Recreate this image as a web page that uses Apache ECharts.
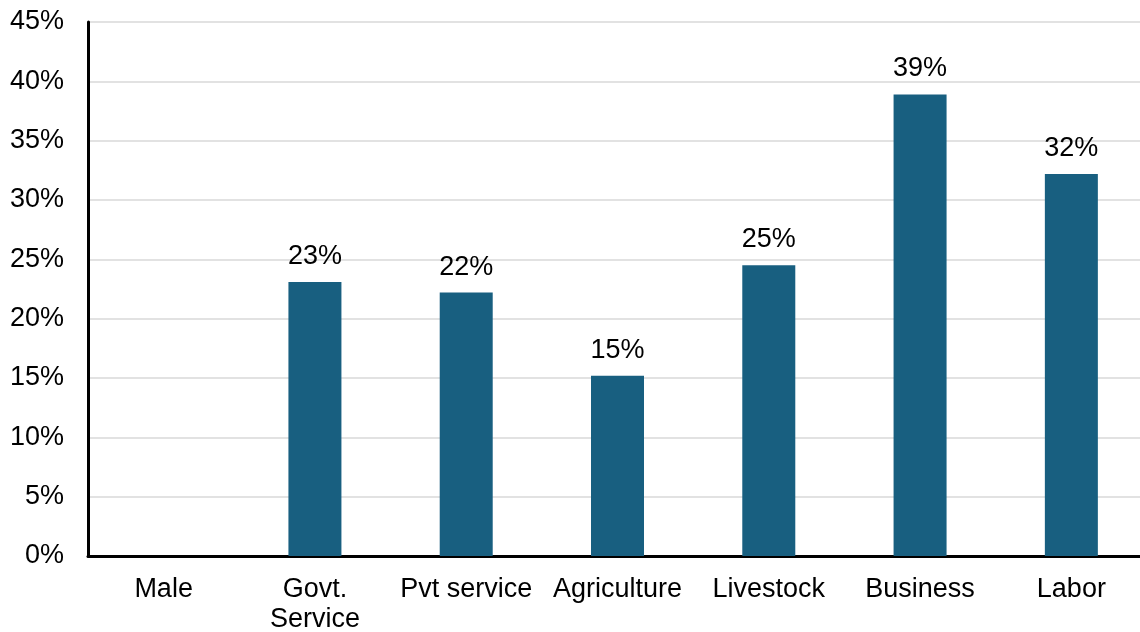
<!DOCTYPE html>
<html>
<head>
<meta charset="utf-8">
<script src="https://cdn.jsdelivr.net/npm/echarts@6/dist/echarts.min.js"></script>
<style>
  html, body { margin: 0; padding: 0; background: #ffffff; overflow: hidden; }
  #chart { width: 1140px; height: 632px; }
</style>
</head>
<body>
<div id="chart"></div>
<script>
// Share of respondents by occupation (percent)
const categories = ['Male', 'Govt.\nService', 'Pvt service', 'Agriculture', 'Livestock', 'Business', 'Labor'];
const values = [null, 23.1, 22.2, 15.2, 24.5, 38.9, 32.2];
const yTicks = { min: 0, max: 45, interval: 5 };

const font = 'Liberation Sans, Arial, sans-serif';
const chart = echarts.init(document.getElementById('chart'), null, { renderer: 'canvas' });

chart.setOption({
  animation: false,
  backgroundColor: '#ffffff',
  grid: {
    left: 88, top: 22, width: 1059, height: 534,
    containLabel: false, outerBoundsMode: 'none'
  },
  xAxis: {
    type: 'category',
    data: categories,
    axisLine: { show: true, lineStyle: { color: '#000000', width: 3 } },
    axisTick: { show: false },
    axisLabel: {
      color: '#000000', fontSize: 27, fontFamily: font,
      margin: 19, lineHeight: 30, interval: 0
    }
  },
  yAxis: {
    type: 'value',
    min: yTicks.min, max: yTicks.max, interval: yTicks.interval,
    axisLine: { show: true, lineStyle: { color: '#000000', width: 3 } },
    axisTick: { show: false },
    splitLine: { show: true, lineStyle: { color: '#d9d9d9', width: 1.5 } },
    axisLabel: {
      color: '#000000', fontSize: 27, fontFamily: font, margin: 24,
      formatter: v => v + '%'
    }
  },
  series: [{
    type: 'bar',
    data: values,
    barWidth: 53,
    itemStyle: { color: '#185f80' },
    label: {
      show: true, position: 'top', distance: 12,
      color: '#000000', fontSize: 27, fontFamily: font,
      formatter: p => Math.round(p.value) + '%'
    }
  }]
});
</script>
</body>
</html>
